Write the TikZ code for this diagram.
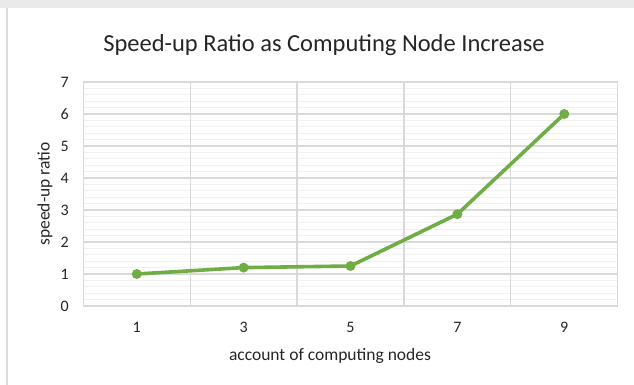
\documentclass[tikz,border=0pt]{standalone}
\usepackage{fontspec}
\setmainfont{Carlito}
\definecolor{gridmajor}{HTML}{D9D9D9}
\definecolor{gridminor}{HTML}{F0F0F0}
\definecolor{seriesgreen}{HTML}{70AD47}
\definecolor{labelgray}{HTML}{262626}
\definecolor{framegray}{HTML}{DCDCDC}
\begin{document}
\begin{tikzpicture}[x=1pt,y=-1pt,
  major/.style={draw=gridmajor, line width=1.3pt},
  minor/.style={draw=gridminor, line width=1pt},
  series/.style={draw=seriesgreen, line width=3.6pt, line join=round},
  marker/.style={circle, fill=seriesgreen, inner sep=0pt, minimum size=10pt},
  ticklabel/.style={font=\fontsize{16}{19}\selectfont, text=labelgray, inner sep=0pt},
  axistitle/.style={font=\fontsize{17.5}{21}\selectfont, text=labelgray, inner sep=0pt},
  charttitle/.style={font=\fontsize{24.5}{29}\selectfont, text=labelgray, inner sep=0pt}]
  % page size
  \useasboundingbox (0,0) rectangle (634,385);
  % chart frame
  \fill[framegray!60] (0,0) rectangle (634,8);
  \draw[framegray, line width=2pt] (6.5,8) -- (6.5,385);
  % plot geometry: left/right edges and value scale
  \def\xl{83.3}
  \def\cw{106.88}
  \def\yz{306}
  \def\yu{32}
  % minor gridlines every 0.2
  \foreach \k in {0,...,6}
    \foreach \j in {1,...,4}
      \draw[minor] (\xl,{\yz-(\k+\j/5)*\yu}) -- ({\xl+5*\cw},{\yz-(\k+\j/5)*\yu});
  % major horizontal gridlines and value labels
  \foreach \v in {0,...,7} {
    \draw[major] (\xl,{\yz-\v*\yu}) -- ({\xl+5*\cw},{\yz-\v*\yu});
    \node[ticklabel, anchor=east] (yl\v) at (69,{\yz-\v*\yu}) {\v};
  }
  % vertical gridlines at category boundaries
  \foreach \n in {0,...,5}
    \draw[major] ({\xl+\n*\cw},{\yz-7*\yu}) -- ({\xl+\n*\cw},\yz);
  % category labels
  \foreach \c/\n in {1/0,3/1,5/2,7/3,9/4}
    \node[ticklabel] (xl\c) at ({\xl+(\n+0.5)*\cw},327.7) {\c};
  % titles
  \node[charttitle] (title) at (324,45) {Speed-up Ratio as Computing Node Increase};
  \node[axistitle] (xtitle) at (330,356) {account of computing nodes};
  \node[axistitle, rotate=90] (ytitle) at (45,194) {speed-up ratio};
  % data series
  \foreach \c/\n/\v in {1/0/1,3/1/1.2,5/2/1.25,7/3/2.87,9/4/6.0}
    \coordinate (p\c) at ({\xl+(\n+0.5)*\cw},{\yz-\v*\yu});
  \draw[series] (p1) -- (p3) -- (p5) -- (p7) -- (p9);
  \foreach \c in {1,3,5,7,9}
    \node[marker] (m\c) at (p\c) {};
\end{tikzpicture}
\end{document}
